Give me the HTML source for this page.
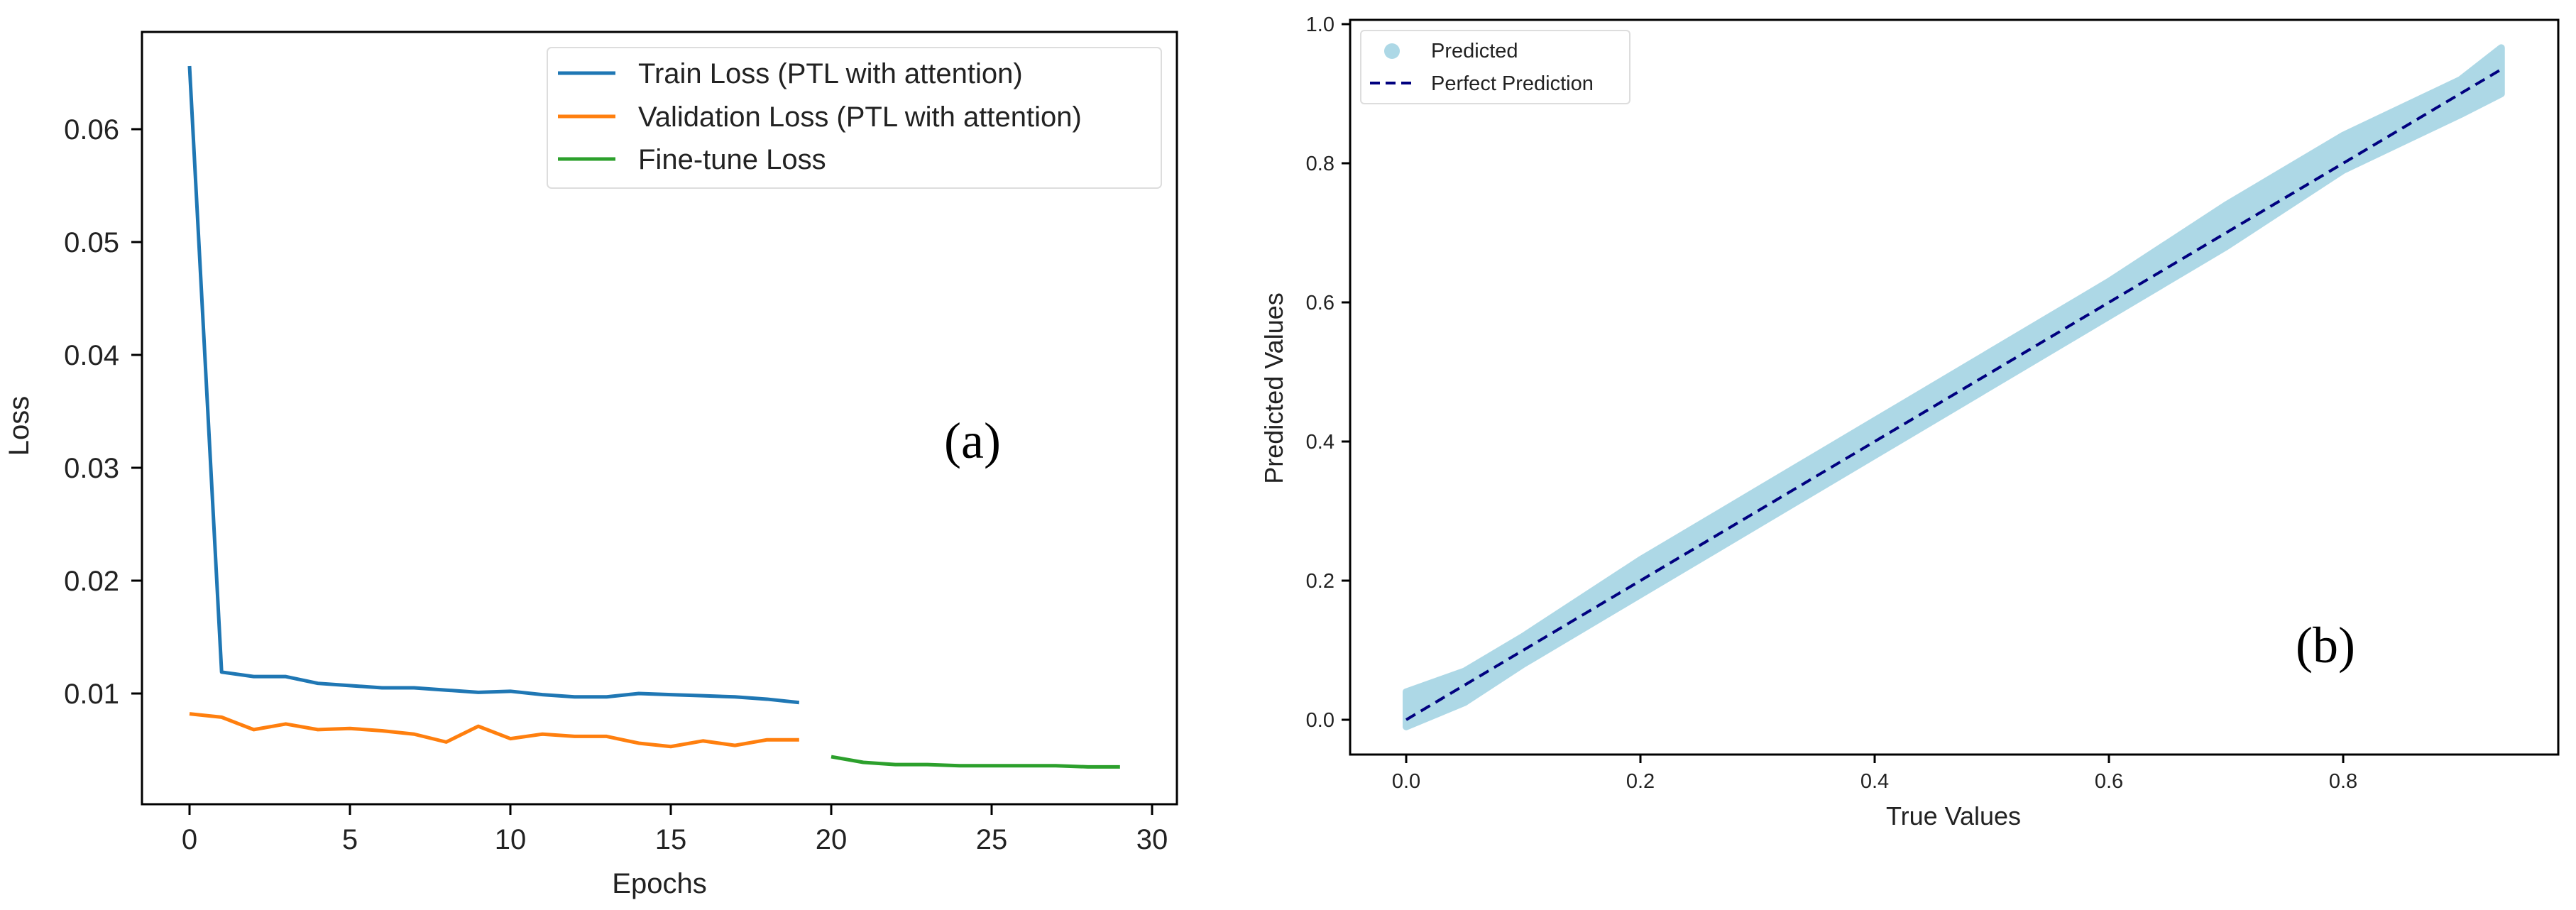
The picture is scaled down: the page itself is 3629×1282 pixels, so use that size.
<!DOCTYPE html>
<html><head><meta charset="utf-8"><style>
html,body{margin:0;padding:0;background:#fff;}
svg{display:block;font-family:"Liberation Sans","DejaVu Sans",sans-serif;}
</style></head><body>
<svg id="fig" width="3629" height="1282" viewBox="0 0 3629 1282" xmlns="http://www.w3.org/2000/svg">
<rect width="3629" height="1282" fill="#fff"/>
<g id="chartA"></g>
<g id="chartB"></g>
</svg>
<script>
// ---- Chart (a) data ----
const trainEpochs = [0,1,2,3,4,5,6,7,8,9,10,11,12,13,14,15,16,17,18,19];
const trainLoss = [0.0656,0.0119,0.0115,0.0115,0.0109,0.0107,0.0105,0.0105,0.0103,0.0101,0.0102,0.0099,0.0097,0.0097,0.0100,0.0099,0.0098,0.0097,0.0095,0.0092];
const valLoss = [0.0082,0.0079,0.0068,0.0073,0.0068,0.0069,0.0067,0.0064,0.0057,0.0071,0.0060,0.0064,0.0062,0.0062,0.0056,0.0053,0.0058,0.0054,0.0059,0.0059];
const ftEpochs = [20,21,22,23,24,25,26,27,28,29];
const ftLoss = [0.0044,0.0039,0.0037,0.0037,0.0036,0.0036,0.0036,0.0036,0.0035,0.0035];
const aXTicks = [0,5,10,15,20,25,30];
const aYTicks = [0.01,0.02,0.03,0.04,0.05,0.06];
const aYTickLabels = ["0.01","0.02","0.03","0.04","0.05","0.06"];
// ---- Chart (b) data ----
const bTrue = [0,0.05,0.1,0.2,0.3,0.4,0.5,0.6,0.7,0.8,0.9,0.935];
const bUpper = [0.04,0.07,0.12,0.23,0.33,0.43,0.53,0.63,0.74,0.84,0.92,0.966];
const bLower = [-0.01,0.025,0.08,0.18,0.28,0.38,0.48,0.58,0.68,0.79,0.87,0.90];
const bLine = [0,0.935];
const bXTicks = [0,0.2,0.4,0.6,0.8];
const bYTicks = [0,0.2,0.4,0.6,0.8,1.0];
const bTickLabels = ["0.0","0.2","0.4","0.6","0.8","1.0"];

const NS="http://www.w3.org/2000/svg";
function mk(parent,tag,attrs,text){const e=document.createElementNS(NS,tag);for(const k in attrs)e.setAttribute(k,attrs[k]);if(text!==undefined)e.textContent=text;parent.appendChild(e);return e;}

// ===== Chart A =====
const A=document.getElementById('chartA');
const ax=v=>267+(v-0)*45.2;
const ay=v=>1136-v*15900;
let e;
e=mk(A,'rect',{x:200,y:45,width:1458,height:1088,fill:'none',stroke:'#000','stroke-width':3});


aXTicks.forEach(t=>{
  e=mk(A,'line',{x1:ax(t),x2:ax(t),y1:1133,y2:1148,stroke:'#000','stroke-width':3});
  
  
  e=mk(A,'text',{x:ax(t),y:1196,'font-size':40,'text-anchor':'middle',fill:'#222'},String(t));
  
  
});
aYTicks.forEach((t,i)=>{
  e=mk(A,'line',{x1:185,x2:200,y1:ay(t),y2:ay(t),stroke:'#000','stroke-width':3});
  
  
  e=mk(A,'text',{x:168,y:ay(t)+14,'font-size':40,'text-anchor':'end',fill:'#222'},aYTickLabels[i]);
  
  
});
function series(parent,xs,ys,color,name){
  const pts=xs.map((x,i)=>ax(x)+','+ay(ys[i])).join(' ');
  const p=mk(parent,'polyline',{points:pts,fill:'none',stroke:color,'stroke-width':5,'stroke-linejoin':'round'});
  
  
}
series(A,trainEpochs,trainLoss,'#1f77b4','train-loss-line');
series(A,trainEpochs,valLoss,'#ff7f0e','validation-loss-line');
series(A,ftEpochs,ftLoss,'#2ca02c','fine-tune-loss-line');
e=mk(A,'text',{x:40,y:600,'font-size':40,'text-anchor':'middle',fill:'#222',transform:'rotate(-90 40 600)'},'Loss');


e=mk(A,'text',{x:929,y:1258,'font-size':40,'text-anchor':'middle',fill:'#222'},'Epochs');


e=mk(A,'text',{x:1370,y:645,'font-size':72,'text-anchor':'middle',fill:'#000','font-family':'Liberation Serif, serif'},'(a)');


const LA=mk(A,'g',{});


mk(LA,'rect',{x:771,y:67,width:865,height:198,rx:6,fill:'#fff',stroke:'#ddd','stroke-width':2});
[['Train Loss (PTL with attention)','#1f77b4',103],['Validation Loss (PTL with attention)','#ff7f0e',164],['Fine-tune Loss','#2ca02c',224]].forEach(d=>{
  e=mk(LA,'line',{x1:786,x2:867,y1:d[2],y2:d[2],stroke:d[1],'stroke-width':5});
  
  
  e=mk(LA,'text',{x:899,y:d[2]+14,'font-size':40,fill:'#222'},d[0]);
  
  
});

// ===== Chart B =====
const B=document.getElementById('chartB');
const bx=v=>1981+v*1650;
const by=v=>1014-v*980;
e=mk(B,'rect',{x:1902,y:28,width:1702,height:1035,fill:'none',stroke:'#000','stroke-width':3});


const bandPts=bTrue.map((x,i)=>bx(x)+','+by(bUpper[i])).concat(bTrue.slice().reverse().map((x,j)=>{const i=bTrue.length-1-j;return bx(x)+','+by(bLower[i]);})).join(' ');
e=mk(B,'polygon',{points:bandPts,fill:'#add8e6',stroke:'#add8e6','stroke-width':10,'stroke-linejoin':'round'});


e=mk(B,'line',{x1:bx(bLine[0]),y1:by(bLine[0]),x2:bx(bLine[1]),y2:by(bLine[1]),stroke:'#00007f','stroke-width':4,'stroke-dasharray':'15 9'});


bXTicks.forEach((t,i)=>{
  e=mk(B,'line',{x1:bx(t),x2:bx(t),y1:1063,y2:1075,stroke:'#000','stroke-width':3});
  
  
  e=mk(B,'text',{x:bx(t),y:1110,'font-size':29,'text-anchor':'middle',fill:'#222'},bTickLabels[i]);
  
  
});
bYTicks.forEach((t,i)=>{
  e=mk(B,'line',{x1:1890,x2:1902,y1:by(t),y2:by(t),stroke:'#000','stroke-width':3});
  
  
  e=mk(B,'text',{x:1880,y:by(t)+10,'font-size':29,'text-anchor':'end',fill:'#222'},bTickLabels[i]);
  
  
});
e=mk(B,'text',{x:1807,y:547,'font-size':36,'text-anchor':'middle',fill:'#222',transform:'rotate(-90 1807 547)'},'Predicted Values');


e=mk(B,'text',{x:2752,y:1162,'font-size':36,'text-anchor':'middle',fill:'#222'},'True Values');


e=mk(B,'text',{x:3276,y:933,'font-size':72,'text-anchor':'middle',fill:'#000','font-family':'Liberation Serif, serif'},'(b)');


const LB=mk(B,'g',{});


mk(LB,'rect',{x:1917,y:43,width:379,height:103,rx:5,fill:'#fff',stroke:'#ddd','stroke-width':2});
e=mk(LB,'circle',{cx:1961,cy:72,r:11,fill:'#add8e6'});


e=mk(LB,'text',{x:2016,y:81,'font-size':29,fill:'#222'},'Predicted');


e=mk(LB,'line',{x1:1930,x2:1993,y1:117,y2:117,stroke:'#00007f','stroke-width':4,'stroke-dasharray':'14 8'});


e=mk(LB,'text',{x:2016,y:127,'font-size':29,fill:'#222'},'Perfect Prediction');


</script>
</body></html>
